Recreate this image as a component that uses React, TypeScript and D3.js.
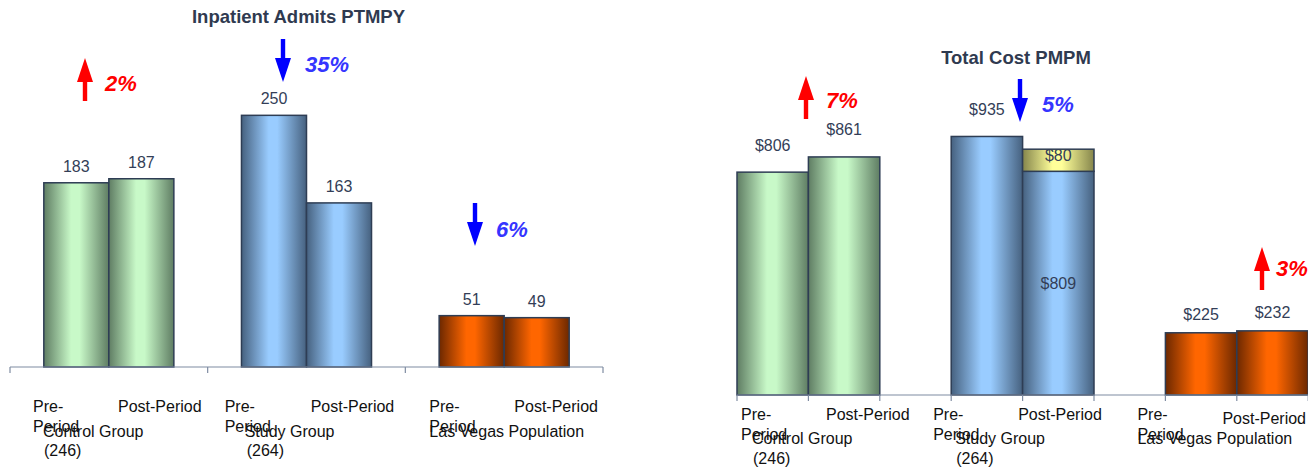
import React from "react";
import * as d3 from "d3";

// ---------- data ----------
const GROUPS = ["Control Group", "Study Group", "Las Vegas Population"];
const GROUP_SUB = ["(246)", "(264)", ""];
const PERIODS = ["Pre-Period", "Post-Period"];

const ADMITS_PRE = [183, 250, 51];
const ADMITS_POST = [187, 163, 49];
const ADMITS_CHANGE = ["2%", "35%", "6%"];
const ADMITS_DIR = ["up", "down", "down"];

const COST_PRE = [806, 935, 225];
const COST_POST_BASE = [861, 809, 232];
const COST_POST_EXTRA = [0, 80, 0];
const COST_CHANGE = ["7%", "5%", "3%"];
const COST_DIR = ["up", "down", "up"];

const TITLES = ["Inpatient Admits PTMPY", "Total Cost PMPM"];

// ---------- style / layout ----------
const FONT = "'Liberation Sans', Arial, Helvetica, sans-serif";
const VAL_COLOR = "#333e57";
const TITLE_COLOR = "#2f3a50";
const LABEL_COLOR = "#111111";
const AXIS_COLOR = "#7f8ca2";
const STROKE = "#2e3d54";
const GRAD = ["green", "blue", "orange"];

// arrow anchors (pixel layout chosen by eye, like the PPT original)
const LEFT_ARROWS = [
  { x: 85, y0: 58, tx: 105, ty: 91 },
  { x: 283, y0: 39, tx: 305, ty: 72 },
  { x: 475, y0: 203, tx: 496, ty: 237 },
];
const RIGHT_ARROWS = [
  { x: 806, y0: 76, tx: 826, ty: 108 },
  { x: 1020, y0: 79, tx: 1042, ty: 112 },
  { x: 1262, y0: 247, tx: 1276, ty: 276 },
];
// label x offsets relative to group band start
const LEFT_LBL = { pre: [23, 17, 24], post: [108, 103, 109], grp: [33, 37, 24], sub: [34, 39, 0] };
const RIGHT_LBL = { pre: [4, -18, -28], post: [89, 67, 57], grp: [15, 4, -28], sub: [16, 5, 0], postDy: [0, 0, 4] };

function Arrow({ x, y0, dir, color }: { x: number; y0: number; dir: string; color: string }) {
  const L = 43, head = 24, hw = 8, sw = 2.2;
  let d: string;
  if (dir === "up") {
    d = `M${x},${y0} L${x + hw},${y0 + head} L${x + sw},${y0 + head} L${x + sw},${y0 + L} L${x - sw},${y0 + L} L${x - sw},${y0 + head} L${x - hw},${y0 + head} Z`;
  } else {
    const t = y0 + L;
    d = `M${x},${t} L${x + hw},${t - head} L${x + sw},${t - head} L${x + sw},${y0} L${x - sw},${y0} L${x - sw},${t - head} L${x - hw},${t - head} Z`;
  }
  return <path d={d} fill={color} />;
}

function Gradients() {
  const defs: [string, string, string][] = [
    ["green", "#5f7d63", "#c8f9c8"],
    ["blue", "#46617f", "#99ccff"],
    ["orange", "#6c2800", "#ff6600"],
    ["yellow", "#85854c", "#ffff99"],
  ];
  return (
    <defs>
      {defs.map(([id, dark, light]) => (
        <linearGradient key={id} id={`g-${id}`} x1="0" x2="1" y1="0" y2="0">
          <stop offset="0" stopColor={dark} />
          <stop offset="0.42" stopColor={light} />
          <stop offset="0.55" stopColor={light} />
          <stop offset="1" stopColor={dark} />
        </linearGradient>
      ))}
    </defs>
  );
}

function LeftChart() {
  const x0 = d3.scaleBand<string>().domain(GROUPS).range([10, 603]).padding(0);
  const x1 = d3.scaleBand<string>().domain(PERIODS).range([0, x0.bandwidth()]).paddingInner(0).paddingOuter(0.52);
  const y = d3.scaleLinear().domain([0, 300]).range([367, 65]);
  const ticks = [...GROUPS.map((g) => x0(g)!), 603];
  return (
    <g>
      <text x={298.5} y={23} textAnchor="middle" fontWeight="bold" fontSize={18.5} fill={TITLE_COLOR}>{TITLES[0]}</text>
      {GROUPS.map((g, i) => {
        const vals = [ADMITS_PRE[i], ADMITS_POST[i]];
        return (
          <g key={g}>
            {PERIODS.map((p, j) => {
              const bx = x0(g)! + x1(p)!;
              const by = y(vals[j]);
              return (
                <g key={p}>
                  <rect x={bx} y={by} width={x1.bandwidth()} height={y(0) - by} fill={`url(#g-${GRAD[i]})`} stroke={STROKE} strokeWidth={1.5} />
                  <text x={bx + x1.bandwidth() / 2} y={by - 11} textAnchor="middle" fontSize={16} fill={VAL_COLOR}>{vals[j]}</text>
                </g>
              );
            })}
          </g>
        );
      })}
      <line x1={10} x2={603} y1={367} y2={367} stroke={AXIS_COLOR} strokeWidth={1.2} />
      {ticks.map((t, k) => (
        <line key={k} x1={t} x2={t} y1={367} y2={373} stroke={AXIS_COLOR} strokeWidth={1.2} />
      ))}
      {GROUPS.map((g, i) => {
        const gx = x0(g)!;
        return (
          <g key={g} fontSize={16} fill={LABEL_COLOR}>
            <text x={gx + LEFT_LBL.pre[i]} y={412}>Pre-</text>
            <text x={gx + LEFT_LBL.pre[i]} y={432}>Period</text>
            <text x={gx + LEFT_LBL.post[i]} y={412}>{PERIODS[1]}</text>
            <text x={gx + LEFT_LBL.grp[i]} y={437}>{g}</text>
            {GROUP_SUB[i] && <text x={gx + LEFT_LBL.sub[i]} y={456}>{GROUP_SUB[i]}</text>}
          </g>
        );
      })}
      {LEFT_ARROWS.map((a, i) => {
        const up = ADMITS_DIR[i] === "up";
        return (
          <g key={i}>
            <Arrow x={a.x} y0={a.y0} dir={ADMITS_DIR[i]} color={up ? "#ff0000" : "#0000ff"} />
            <text x={a.tx} y={a.ty} fontSize={22} fontWeight="bold" fontStyle="italic" fill={up ? "#ff0000" : "#3535ff"}>{ADMITS_CHANGE[i]}</text>
          </g>
        );
      })}
    </g>
  );
}

function RightChart() {
  const slots: string[] = [];
  GROUPS.forEach((g) => {
    PERIODS.forEach((p) => slots.push(`${g}|${p}`));
    slots.push(`${g}|gap`);
  });
  const step = 71.4;
  const x = d3.scaleBand<string>().domain(slots).range([737, 737 + step * slots.length]).padding(0);
  const y = d3.scaleLinear().domain([0, 1000]).range([395, 118.5]);
  const ticks = d3.range(0, 9).map((k) => 737 + k * step);
  const labelOff = [27, 27, 18];
  return (
    <g>
      <text x={1016} y={64} textAnchor="middle" fontWeight="bold" fontSize={18.5} fill={TITLE_COLOR}>{TITLES[1]}</text>
      {GROUPS.map((g, i) => {
        const preX = x(`${g}|${PERIODS[0]}`)!;
        const postX = x(`${g}|${PERIODS[1]}`)!;
        const w = x.bandwidth();
        const yPre = y(COST_PRE[i]);
        const yBase = y(COST_POST_BASE[i]);
        const yTot = y(COST_POST_BASE[i] + COST_POST_EXTRA[i]);
        const hasExtra = COST_POST_EXTRA[i] > 0;
        return (
          <g key={g}>
            <rect x={preX} y={yPre} width={w} height={y(0) - yPre} fill={`url(#g-${GRAD[i]})`} stroke={STROKE} strokeWidth={1.5} />
            <rect x={postX} y={yBase} width={w} height={y(0) - yBase} fill={`url(#g-${GRAD[i]})`} stroke={STROKE} strokeWidth={1.5} />
            {hasExtra && (
              <rect x={postX} y={yTot} width={w} height={yBase - yTot} fill="url(#g-yellow)" stroke={STROKE} strokeWidth={1.5} />
            )}
            <text x={preX + w / 2} y={yPre - labelOff[i] + 5.5} textAnchor="middle" fontSize={16} fill={VAL_COLOR}>{`$${COST_PRE[i]}`}</text>
            {hasExtra ? (
              <>
                <text x={postX + w / 2} y={(yTot + yBase) / 2 + 0.5} textAnchor="middle" fontSize={16} fill={VAL_COLOR}>{`$${COST_POST_EXTRA[i]}`}</text>
                <text x={postX + w / 2} y={(yBase + y(0)) / 2 + 5.5} textAnchor="middle" fontSize={16} fill={VAL_COLOR}>{`$${COST_POST_BASE[i]}`}</text>
              </>
            ) : (
              <text x={postX + w / 2} y={yBase - labelOff[i] + 5.5} textAnchor="middle" fontSize={16} fill={VAL_COLOR}>{`$${COST_POST_BASE[i]}`}</text>
            )}
          </g>
        );
      })}
      <line x1={737} x2={1308} y1={395} y2={395} stroke={AXIS_COLOR} strokeWidth={1.2} />
      {ticks.map((t, k) => (
        <line key={k} x1={t} x2={t} y1={395} y2={401} stroke={AXIS_COLOR} strokeWidth={1.2} />
      ))}
      {GROUPS.map((g, i) => {
        const gx = x(`${g}|${PERIODS[0]}`)!;
        return (
          <g key={g} fontSize={16} fill={LABEL_COLOR}>
            <text x={gx + RIGHT_LBL.pre[i]} y={420}>Pre-</text>
            <text x={gx + RIGHT_LBL.pre[i]} y={440}>Period</text>
            <text x={gx + RIGHT_LBL.post[i]} y={420 + RIGHT_LBL.postDy[i]}>{PERIODS[1]}</text>
            <text x={gx + RIGHT_LBL.grp[i]} y={444}>{g}</text>
            {GROUP_SUB[i] && <text x={gx + RIGHT_LBL.sub[i]} y={464}>{GROUP_SUB[i]}</text>}
          </g>
        );
      })}
      {RIGHT_ARROWS.map((a, i) => {
        const up = COST_DIR[i] === "up";
        return (
          <g key={i}>
            <Arrow x={a.x} y0={a.y0} dir={COST_DIR[i]} color={up ? "#ff0000" : "#0000ff"} />
            <text x={a.tx} y={a.ty} fontSize={22} fontWeight="bold" fontStyle="italic" fill={up ? "#ff0000" : "#3535ff"}>{COST_CHANGE[i]}</text>
          </g>
        );
      })}
    </g>
  );
}

export default function App() {
  return (
    <svg
      width={1308}
      height={467}
      style={{ position: "absolute", left: 0, top: 0, display: "block", background: "#fff" }}
      fontFamily={FONT}
    >
      <Gradients />
      <rect x={0} y={0} width={1308} height={467} fill="#fff" />
      <LeftChart />
      <RightChart />
    </svg>
  );
}
